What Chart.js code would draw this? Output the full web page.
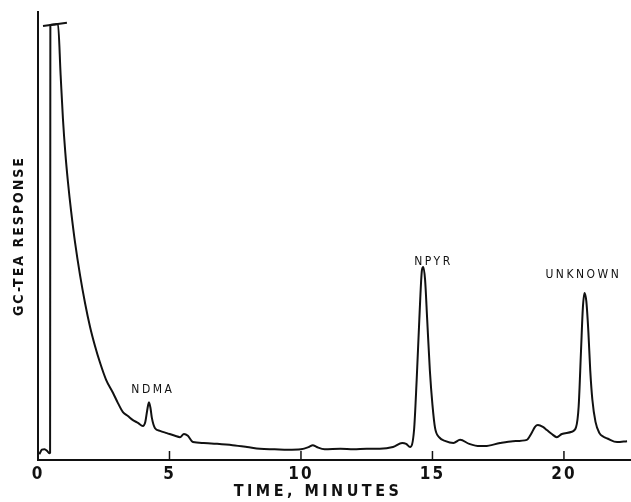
<!DOCTYPE html>
<html><head><meta charset="utf-8">
<script src="https://cdn.jsdelivr.net/npm/chart.js@4/dist/chart.umd.min.js"></script>
<style>html,body{margin:0;padding:0;background:#fff;} #wrap{position:relative;width:631px;height:502px;}</style>
</head><body><div id="wrap"><canvas id="c" width="631" height="502"></canvas></div>
<script>
// Retention time (minutes) and detector response (relative units, 0-100 full scale)
const timeMin = [0.05,0.15,0.25,0.35,0.43,0.46,0.47,0.60,0.76,0.86,0.95,1.04,1.14,1.26,1.41,1.60,1.79,1.98,2.17,2.36,2.59,2.85,3.04,3.23,3.42,3.61,3.80,3.99,4.08,4.15,4.22,4.28,4.33,4.45,4.64,4.90,5.21,5.40,5.55,5.70,5.89,6.3,6.81,7.4,7.95,8.44,9.0,9.5,10.0,10.3,10.45,10.6,10.9,11.5,12.0,12.5,13.0,13.5,13.85,14.0,14.15,14.3,14.4,14.5,14.6,14.65,14.72,14.8,14.9,15.0,15.1,15.25,15.5,15.8,16.05,16.4,16.8,17.0,17.57,18.06,18.59,18.75,18.9,19.01,19.2,19.35,19.54,19.73,19.92,20.3,20.46,20.56,20.65,20.72,20.78,20.85,20.93,21.0,21.08,21.2,21.35,21.5,21.65,22.02,22.4];
const response = [1.3,2.3,2.4,2.0,1.5,1.6,97.1,97.2,97.3,86.0,76.0,68.5,62.0,55.5,48.5,41.2,35.0,29.7,25.4,21.7,17.9,15.0,12.7,10.7,9.8,8.9,8.3,7.6,8.5,11.0,12.9,11.5,9.4,7.1,6.5,6.0,5.4,5.1,5.8,5.4,4.0,3.8,3.6,3.3,2.9,2.5,2.4,2.3,2.4,2.9,3.3,2.9,2.4,2.5,2.4,2.5,2.5,2.9,3.8,3.6,2.9,6.7,17.9,31.3,42.4,43.1,40.2,31.3,20.1,12.3,7.1,5.1,4.2,3.8,4.5,3.6,3.1,3.1,3.8,4.2,4.5,5.8,7.4,7.8,7.4,6.7,5.8,5.1,5.8,6.3,7.3,12.0,24.5,34.0,37.3,35.5,28.5,20.0,13.5,8.5,6.0,5.2,4.8,4.0,4.2];
// off-scale "T" cap of the solvent front
const capTime = [0.19, 1.10];
const capResp = [96.9, 97.6];
const tickValues = [0, 5, 10, 15, 20];
const peakLabels = ['NDMA', 'NPYR', 'UNKNOWN'];
const peakLabelTime = [4.33, 15.0, 20.7];
const peakLabelResp = [15.6, 44.2, 41.3];
const xTitle = 'TIME, MINUTES';
const yTitle = 'GC-TEA RESPONSE';

const INK = '#111';
const FONT = "'Liberation Sans Narrow', 'DejaVu Sans Condensed', sans-serif";

const mainPts = timeMin.map((t, i) => ({x: t, y: response[i]}));
const capPts = capTime.map((t, i) => ({x: t, y: capResp[i]}));

const textPlugin = {
  id: 'textPlugin',
  beforeDraw(chart) { chart.ctx.letterSpacing = '2px'; },
  afterDraw(chart) {
    const {ctx, scales: {x, y}} = chart;
    ctx.save();
    // inward tick marks
    ctx.strokeStyle = INK; ctx.lineWidth = 1.5;
    tickValues.forEach(v => {
      if (v === 0) return;
      const px = x.getPixelForValue(v);
      ctx.beginPath(); ctx.moveTo(px, y.bottom); ctx.lineTo(px, y.bottom - 9); ctx.stroke();
    });
    // peak labels
    ctx.fillStyle = INK;
    ctx.textAlign = 'center'; ctx.textBaseline = 'middle';
    ctx.font = "12px " + FONT;
    ctx.letterSpacing = '2.5px';
    peakLabels.forEach((s, i) => {
      ctx.fillText(s, x.getPixelForValue(peakLabelTime[i]) + 1, y.getPixelForValue(peakLabelResp[i]));
    });
    // x-axis title
    ctx.font = "bold 16px " + FONT;
    ctx.letterSpacing = '3.5px';
    ctx.fillText(xTitle, 318, 492);
    ctx.restore();
    ctx.letterSpacing = '0px';
  }
};

new Chart(document.getElementById('c'), {
  type: 'scatter',
  data: {
    datasets: [
      {data: mainPts, showLine: true, borderColor: INK, borderWidth: 2, pointRadius: 0, cubicInterpolationMode: 'monotone', fill: false},
      {data: capPts, showLine: true, borderColor: INK, borderWidth: 2, pointRadius: 0, fill: false}
    ]
  },
  options: {
    responsive: false,
    animation: false,
    devicePixelRatio: 1,
    layout: {padding: {top: 12, right: 0, left: 0, bottom: 0}},
    plugins: {legend: {display: false}, tooltip: {enabled: false}},
    scales: {
      x: {
        type: 'linear', min: 0, max: 22.55,
        afterBuildTicks: s => { s.ticks = tickValues.map(v => ({value: v})); },
        afterFit: s => { s.height = 42; },
        grid: {display: false, drawTicks: false},
        border: {display: true, color: INK, width: 2},
        ticks: {color: INK, padding: 4, maxRotation: 0, font: {family: FONT, size: 17, weight: 'bold'}},
        title: {display: false}
      },
      y: {
        min: 0, max: 100,
        afterFit: s => { s.width = 38; },
        grid: {display: false, drawTicks: false},
        border: {display: true, color: INK, width: 2},
        ticks: {display: false},
        title: {display: true, text: yTitle, color: INK, padding: {top: 12, bottom: 0}, font: {family: FONT, size: 14, weight: 'bold', lineHeight: 1}}
      }
    }
  },
  plugins: [textPlugin]
});
</script></body></html>
